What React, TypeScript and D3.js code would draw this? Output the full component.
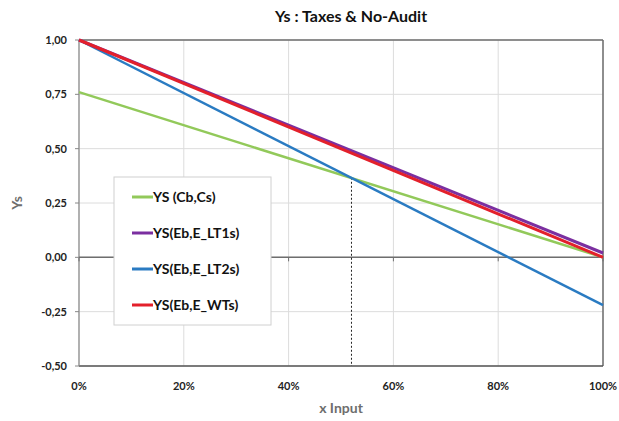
import { useEffect, useRef } from "react";
import * as d3 from "d3";

const xInput = [0, 1];
const ysCbCs = [0.76, 0.0];
const ysLT1s = [1.0, 0.02];
const ysLT2s = [1.0, -0.22];
const ysWTs = [1.0, 0.0];

const seriesNames = ["YS (Cb,Cs)", "YS(Eb,E_LT1s)", "YS(Eb,E_LT2s)", "YS(Eb,E_WTs)"];
const seriesColors = ["#92c95a", "#7b2fa0", "#2a7bc2", "#e3202b"];
const seriesWidths = [2.5, 3, 2.5, 3];

const xTicks = [0, 0.2, 0.4, 0.6, 0.8, 1];
const yTicks = [-0.5, -0.25, 0, 0.25, 0.5, 0.75, 1];
const crossX = 0.52;
const crossY = 0.366;

export default function App() {
  const svgRef = useRef<SVGSVGElement>(null);
  const width = 619;
  const height = 421;

  useEffect(() => {
    if (!svgRef.current) return;
    const svg = d3.select(svgRef.current);
    svg.selectAll("*").remove();

    const margin = { top: 40, right: 16, bottom: 55, left: 79 };
    const innerW = width - margin.left - margin.right;
    const innerH = height - margin.top - margin.bottom;
    const font = "Lato, 'Open Sans', sans-serif";

    const x = d3.scaleLinear().domain([0, 1]).range([0, innerW]);
    const y = d3.scaleLinear().domain([-0.5, 1]).range([innerH, 0]);

    svg.append("rect").attr("width", width).attr("height", height).attr("fill", "#fff");

    svg
      .append("text")
      .attr("x", 351)
      .attr("y", 22)
      .attr("text-anchor", "middle")
      .attr("font-family", font)
      .attr("font-weight", 700)
      .attr("font-size", 16)
      .attr("fill", "#111")
      .text("Ys : Taxes & No-Audit");

    const g = svg.append("g").attr("transform", `translate(${margin.left},${margin.top})`);

    // grid
    g.selectAll(".hgrid")
      .data(yTicks)
      .join("line")
      .attr("x1", 0)
      .attr("x2", innerW)
      .attr("y1", (d) => y(d))
      .attr("y2", (d) => y(d))
      .attr("stroke", "#dcdcdc")
      .attr("stroke-width", 1);
    g.selectAll(".vgrid")
      .data(xTicks)
      .join("line")
      .attr("x1", (d) => x(d))
      .attr("x2", (d) => x(d))
      .attr("y1", 0)
      .attr("y2", innerH)
      .attr("stroke", "#dcdcdc")
      .attr("stroke-width", 1);

    // frame
    g.append("line").attr("x1", 0).attr("x2", innerW).attr("y1", 0).attr("y2", 0).attr("stroke", "#6e6e6e").attr("stroke-width", 1.5);
    g.append("line").attr("x1", innerW).attr("x2", innerW).attr("y1", 0).attr("y2", innerH).attr("stroke", "#6e6e6e").attr("stroke-width", 1.5);
    g.append("line").attr("x1", 0).attr("x2", innerW).attr("y1", innerH).attr("y2", innerH).attr("stroke", "#555").attr("stroke-width", 1.5);
    g.append("line").attr("x1", 0).attr("x2", 0).attr("y1", 0).attr("y2", innerH).attr("stroke", "#888").attr("stroke-width", 1.2);

    // zero line with ticks
    g.append("line").attr("x1", 0).attr("x2", innerW).attr("y1", y(0)).attr("y2", y(0)).attr("stroke", "#6e6e6e").attr("stroke-width", 1.5);
    g.selectAll(".ztick")
      .data(xTicks)
      .join("line")
      .attr("x1", (d) => x(d))
      .attr("x2", (d) => x(d))
      .attr("y1", y(0))
      .attr("y2", y(0) + 4)
      .attr("stroke", "#6e6e6e");
    g.selectAll(".ytick")
      .data(yTicks)
      .join("line")
      .attr("x1", -4)
      .attr("x2", 0)
      .attr("y1", (d) => y(d))
      .attr("y2", (d) => y(d))
      .attr("stroke", "#888");

    // tick labels
    const fmtY = (d: number) => d3.format(".2f")(d).replace(".", ",").replace("−", "-");
    g.selectAll(".ylab")
      .data(yTicks)
      .join("text")
      .attr("x", -12)
      .attr("y", (d) => y(d))
      .attr("dy", "0.35em")
      .attr("text-anchor", "end")
      .attr("font-family", font)
      .attr("font-weight", 700)
      .attr("font-size", 11)
      .attr("fill", "#222")
      .text(fmtY);
    g.selectAll(".xlab")
      .data(xTicks)
      .join("text")
      .attr("x", (d) => x(d))
      .attr("y", innerH + 24)
      .attr("text-anchor", "middle")
      .attr("font-family", font)
      .attr("font-weight", 700)
      .attr("font-size", 11)
      .attr("fill", "#222")
      .text((d) => `${Math.round(d * 100)}%`);

    svg
      .append("text")
      .attr("x", margin.left + innerW / 2)
      .attr("y", 413)
      .attr("text-anchor", "middle")
      .attr("font-family", font)
      .attr("font-weight", 700)
      .attr("font-size", 14)
      .attr("fill", "#6e6e6e")
      .text("x Input");
    svg
      .append("text")
      .attr("transform", `translate(22,${margin.top + y(0.25)}) rotate(-90)`)
      .attr("text-anchor", "middle")
      .attr("font-family", font)
      .attr("font-weight", 700)
      .attr("font-size", 14)
      .attr("fill", "#6e6e6e")
      .text("Ys");

    // dotted marker
    g.append("line")
      .attr("x1", x(crossX))
      .attr("x2", x(crossX))
      .attr("y1", y(crossY))
      .attr("y2", innerH)
      .attr("stroke", "#222")
      .attr("stroke-width", 1)
      .attr("stroke-dasharray", "2,2");

    const seriesData = [ysCbCs, ysLT1s, ysLT2s, ysWTs];
    const line = d3
      .line<number>()
      .x((_, i) => x(xInput[i]))
      .y((d) => y(d));
    const order = [0, 2, 1, 3];
    order.forEach((k) => {
      g.append("path")
        .datum(seriesData[k])
        .attr("fill", "none")
        .attr("stroke", seriesColors[k])
        .attr("stroke-width", seriesWidths[k])
        .attr("d", line);
    });

    // legend
    const lg = svg.append("g").attr("transform", "translate(114,177)");
    lg.append("rect")
      .attr("width", 157)
      .attr("height", 148)
      .attr("fill", "#fff")
      .attr("stroke", "#d0d0d0");
    seriesNames.forEach((name, i) => {
      const cy = 20 + i * 36;
      lg.append("line")
        .attr("x1", 18)
        .attr("x2", 39)
        .attr("y1", cy)
        .attr("y2", cy)
        .attr("stroke", seriesColors[i])
        .attr("stroke-width", 3);
      lg.append("text")
        .attr("x", 39)
        .attr("y", cy)
        .attr("dy", "0.35em")
        .attr("font-family", font)
        .attr("font-weight", 700)
        .attr("font-size", 14)
        .attr("fill", "#111")
        .text(name);
    });
  }, []);

  return (
    <svg ref={svgRef} width={width} height={height} style={{ position: "absolute", left: 0, top: 0 }} />
  );
}
